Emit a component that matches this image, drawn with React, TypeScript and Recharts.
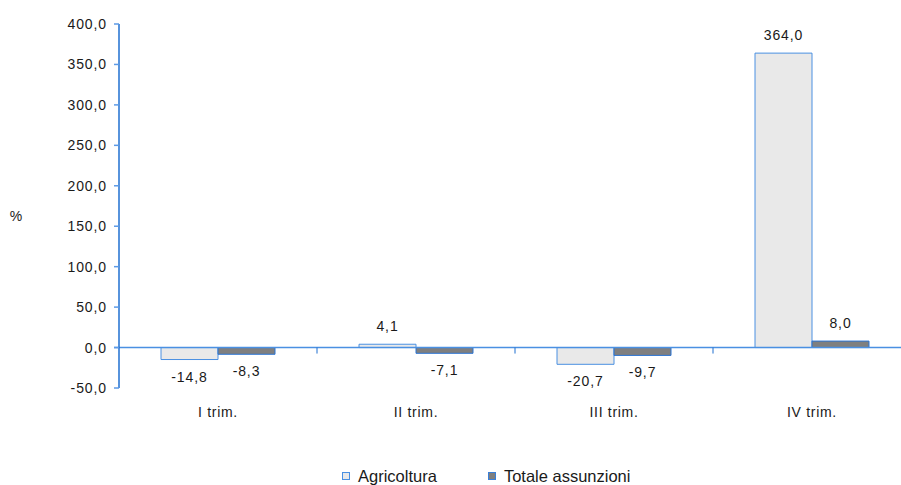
import React from "react";
import { BarChart, Bar, XAxis, YAxis, ReferenceLine, LabelList, Legend } from "recharts";

const categories = ["I trim.", "II trim.", "III trim.", "IV trim."];
const agricoltura = [-14.8, 4.1, -20.7, 364.0];
const totaleAssunzioni = [-8.3, -7.1, -9.7, 8.0];
const yTicks = [-50, 0, 50, 100, 150, 200, 250, 300, 350, 400];
const seriesNames = ["Agricoltura", "Totale assunzioni"];
const yUnit = "%";

const data = categories.map((c, i) => ({
  cat: c,
  agri: agricoltura[i],
  tot: totaleAssunzioni[i],
}));

const FONT = "'Liberation Sans', Arial, sans-serif";
const AXIS_BLUE = "#1f6fd0";
const ZERO_BLUE = "#4a90e2";
const fmt = (v: number) => v.toFixed(1).replace(".", ",");

const renderValueLabel = (props: any) => {
  const { x, y, width, height, value } = props;
  const top = Math.min(y, y + height);
  const bottom = Math.max(y, y + height);
  const cy = value >= 0 ? top - 18 : bottom + 17;
  return (
    <text
      x={x + width / 2}
      y={cy}
      textAnchor="middle"
      dominantBaseline="central"
      fontFamily={FONT}
      fontSize={14}
      letterSpacing={0.9}
      fill="#1a1a1a"
    >
      {fmt(value)}
    </text>
  );
};

const CatTick = (props: any) => {
  const { x, y, payload } = props;
  return (
    <text
      x={x}
      y={y + 24}
      textAnchor="middle"
      dominantBaseline="central"
      fontFamily={FONT}
      fontSize={14}
      letterSpacing={0.7}
      fill="#1a1a1a"
    >
      {payload.value}
    </text>
  );
};

const ZeroLine = (p: any) => {
  const { x1, x2, y1 } = p;
  const n = categories.length;
  const step = (x2 - x1) / n;
  const ticks = [];
  for (let i = 1; i < n; i++) {
    const tx = x1 + step * i;
    ticks.push(<line key={i} x1={tx} x2={tx} y1={y1} y2={y1 + 6} stroke={AXIS_BLUE} strokeWidth={1} />);
  }
  return (
    <g>
      <line x1={x1 - 5} x2={x2} y1={y1} y2={y1} stroke={ZERO_BLUE} strokeWidth={1.5} />
      {ticks}
    </g>
  );
};

const LegendContent = () => {
  const items = [
    { name: seriesNames[0], fill: "#e9e9e9", stroke: "#4a90e2" },
    { name: seriesNames[1], fill: "#7f7f7f", stroke: "#3a7fd8" },
  ];
  return (
    <div style={{ display: "flex", alignItems: "center", paddingLeft: 342, fontFamily: FONT, fontSize: 16.5, lineHeight: "18px", color: "#1a1a1a" }}>
      {items.map((it, i) => (
        <div key={i} style={{ display: "flex", alignItems: "center", marginRight: i === 0 ? 51 : 0 }}>
          <span style={{ display: "inline-block", width: 6, height: 6, background: it.fill, border: `1px solid ${it.stroke}`, marginRight: 8 }} />
          <span>{it.name}</span>
        </div>
      ))}
    </div>
  );
};

export default function App() {
  return (
    <div style={{ position: "absolute", left: 0, top: 0, width: 901, height: 485, overflow: "hidden", background: "#fff" }}>
      <BarChart
        width={930}
        height={485}
        data={data}
        margin={{ top: 24, right: 19, bottom: 67, left: 0 }}
        barCategoryGap={42}
        barGap={0}
      >
        <XAxis
          dataKey="cat"
          height={30}
          axisLine={false}
          tickLine={false}
          tickSize={0}
          tickMargin={0}
          interval={0}
          tick={<CatTick />}
        />
        <YAxis
          width={119}
          domain={[-50, 400]}
          ticks={yTicks}
          interval={0}
          allowDataOverflow
          tickFormatter={fmt}
          tickSize={5}
          tickMargin={7}
          axisLine={{ stroke: AXIS_BLUE, strokeWidth: 1.5 }}
          tickLine={{ stroke: "#5c9ae6", strokeWidth: 1.5 }}
          tick={{ fontFamily: FONT, fontSize: 14, fill: "#1a1a1a", letterSpacing: 0.9 } as any}
          label={{
            content: (p: any) => {
              const vb = p.viewBox;
              return (
                <text x={16} y={vb.y + vb.height / 2 + 10} textAnchor="middle" dominantBaseline="central" fontFamily={FONT} fontSize={14} fill="#1a1a1a">
                  {yUnit}
                </text>
              );
            },
          }}
        />
        <Bar dataKey="agri" name={seriesNames[0]} fill="#e9e9e9" stroke="#4a90e2" strokeWidth={1} isAnimationActive={false}>
          <LabelList dataKey="agri" content={renderValueLabel} />
        </Bar>
        <Bar dataKey="tot" name={seriesNames[1]} fill="#7f7f7f" stroke="#2a74d4" strokeWidth={1} isAnimationActive={false}>
          <LabelList dataKey="tot" content={renderValueLabel} />
        </Bar>
        <ReferenceLine y={0} shape={ZeroLine} />
        <Legend
          layout="horizontal"
          verticalAlign="middle"
          align="center"
          content={<LegendContent />}
          wrapperStyle={{ top: 467, left: 0, width: 901 }}
        />
      </BarChart>
    </div>
  );
}
